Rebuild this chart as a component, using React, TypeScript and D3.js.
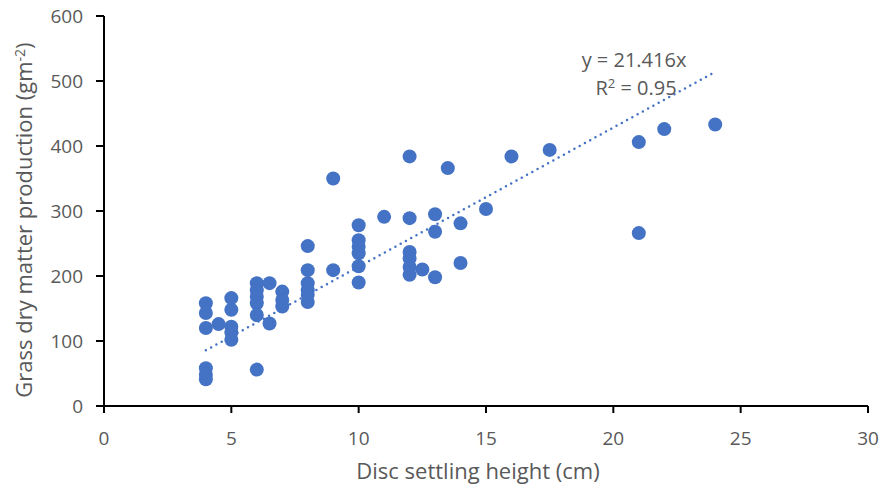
import React from "react";
import * as d3 from "d3";

const discHeight: number[] = [
  4, 4, 4, 4, 4, 4, 4.5, 5, 5, 5, 5, 5, 6, 6, 6, 6, 6, 6, 6.5, 6.5, 7, 7, 7,
  8, 8, 8, 8, 8, 8, 9, 9, 10, 10, 10, 10, 10, 10, 11, 12, 12, 12, 12, 12, 12,
  12.5, 13, 13, 13, 13.5, 14, 14, 15, 16, 17.5, 21, 21, 22, 24,
];
const dryMatter: number[] = [
  158, 143, 120, 58, 48, 41, 126, 166, 148, 122, 113, 102, 189, 178, 168, 158,
  140, 56, 189, 127, 176, 163, 153, 246, 209, 189, 178, 171, 160, 350, 209,
  278, 255, 245, 235, 215, 190, 291, 384, 289, 237, 227, 214, 202, 210, 295,
  268, 198, 366, 281, 220, 303, 384, 394, 406, 266, 426, 433,
];
const xTicks: number[] = [0, 5, 10, 15, 20, 25, 30];
const yTicks: number[] = [0, 100, 200, 300, 400, 500, 600];
const slope = 21.416;
const trendRange: number[] = [4, 24];
const eqLine1 = "y = 21.416x";
const eqLine2a = "R";
const eqLine2sup = "2";
const eqLine2b = " = 0.95";
const xTitle = "Disc settling height (cm)";
const yTitleMain = "Grass dry matter production (gm";
const yTitleSup = "-2";
const yTitleEnd = ")";

const W = 884;
const H = 492;
const left = 104;
const right = 868;
const top = 16;
const bottom = 406;

const FONT = "'Open Sans', 'Noto Sans', sans-serif";
const TEXT = "#595959";
const BLUE = "#4472C4";

export default function App() {
  const x = d3.scaleLinear().domain([0, 30]).range([left, right]);
  const y = d3.scaleLinear().domain([0, 600]).range([bottom, top]);
  const pts = discHeight.map((d, i) => ({ x: d, y: dryMatter[i] }));
  const line = d3
    .line<number>()
    .x((d) => x(d))
    .y((d) => y(slope * d));

  return (
    <svg
      width={W}
      height={H}
      style={{ position: "absolute", left: 0, top: 0, background: "#fff" }}
      fontFamily={FONT}
    >
      <rect x={0} y={0} width={W} height={H} fill="#fff" />
      {/* trendline */}
      <path
        d={line(trendRange) || ""}
        fill="none"
        stroke={BLUE}
        strokeWidth={2.5}
        strokeDasharray="0 6"
        strokeLinecap="round"
      />
      {/* points */}
      {pts.map((p, i) => (
        <circle key={i} cx={x(p.x)} cy={y(p.y)} r={7} fill={BLUE} />
      ))}
      {/* axes */}
      <line x1={x(0) - 8} x2={x(30)} y1={bottom} y2={bottom} stroke="#000" strokeWidth={2} />
      <line x1={left} x2={left} y1={top} y2={bottom + 7} stroke="#000" strokeWidth={2} />
      {xTicks.map((t) => (
        <g key={"xt" + t}>
          <line x1={x(t)} x2={x(t)} y1={bottom} y2={bottom + 7} stroke="#000" strokeWidth={2} />
          <text x={x(t)} y={445} textAnchor="middle" fontSize={19} fill={TEXT}>
            {t}
          </text>
        </g>
      ))}
      {yTicks.map((t) => (
        <g key={"yt" + t}>
          <line x1={left - 8} x2={left} y1={y(t)} y2={y(t)} stroke="#000" strokeWidth={2} />
          <text x={83} y={y(t) + 7} textAnchor="end" fontSize={19} fill={TEXT}>
            {t}
          </text>
        </g>
      ))}
      {/* titles */}
      <text x={478} y={479} textAnchor="middle" fontSize={22} fill={TEXT}>
        {xTitle}
      </text>
      <text
        transform={`translate(32, 220) rotate(-90)`}
        textAnchor="middle"
        fontSize={22}
        fill={TEXT}
      >
        {yTitleMain}
        <tspan dy={-7} fontSize={14}>
          {yTitleSup}
        </tspan>
        <tspan dy={7}>{yTitleEnd}</tspan>
      </text>
      {/* equation */}
      <text x={634} y={67} textAnchor="middle" fontSize={20} fill={TEXT}>
        {eqLine1}
      </text>
      <text x={636} y={95} textAnchor="middle" fontSize={20} fill={TEXT}>
        {eqLine2a}
        <tspan dy={-7} fontSize={13}>
          {eqLine2sup}
        </tspan>
        <tspan dy={7}>{eqLine2b}</tspan>
      </text>
    </svg>
  );
}
